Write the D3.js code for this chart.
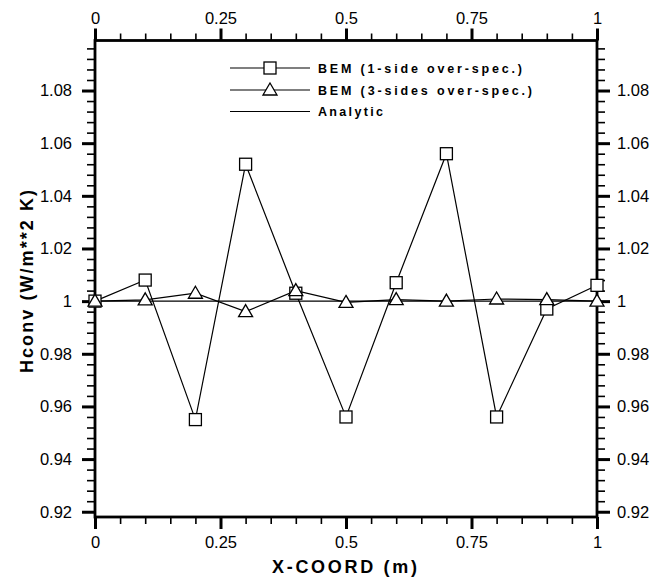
<!DOCTYPE html>
<html>
<head>
<meta charset="utf-8">
<script src="https://cdn.jsdelivr.net/npm/d3@7"></script>
<style>
  body { margin: 0; background: #fff; }
  svg { display: block; }
  text { font-family: "Liberation Sans", Arial, Helvetica, sans-serif; fill: #000; }
</style>
</head>
<body>
<svg id="chart" width="664" height="577"></svg>
<script>
// ---- data ----
const xCoord   = [0, 0.1, 0.2, 0.3, 0.4, 0.5, 0.6, 0.7, 0.8, 0.9, 1.0];
const bem1Side = [1.000, 1.008, 0.955, 1.052, 1.003, 0.956, 1.007, 1.056, 0.956, 0.997, 1.006];
const bem3Side = [1.000, 1.0005, 1.003, 0.996, 1.004, 0.9995, 1.0006, 1.000, 1.0008, 1.0006, 1.000];
const analytic = [1.000, 1.000, 1.000, 1.000, 1.000, 1.000, 1.000, 1.000, 1.000, 1.000, 1.000];
const xTicks = [0, 0.25, 0.5, 0.75, 1];
const xTickLabels = ["0", "0.25", "0.5", "0.75", "1"];
const yTicks = [0.92, 0.94, 0.96, 0.98, 1.00, 1.02, 1.04, 1.06, 1.08];
const yTickLabels = ["0.92", "0.94", "0.96", "0.98", "1", "1.02", "1.04", "1.06", "1.08"];
const legendLabels = ["BEM (1-side over-spec.)", "BEM (3-sides over-spec.)", "Analytic"];

// ---- layout ----
const L = 95, R = 597, T = 40.5, B = 517;
const svg = d3.select("#chart");
const x = d3.scaleLinear().domain([0, 1]).range([L, R]);
const y = d3.scaleLinear().domain([0.918, 1.099]).range([B, T]);

const xMinor = d3.range(0, 1.0001, 0.05).filter(v => !xTicks.some(t => Math.abs(t - v) < 1e-6));
const yMinor = d3.range(0.92, 1.0981, 0.004).filter(v => !yTicks.some(t => Math.abs(t - v) < 1e-6));

const fmtNone = () => "";
function minor(g) {
  g.select(".domain").remove();
  g.selectAll("line").attr("stroke", "#000").attr("stroke-width", 1.6);
}
svg.append("g").attr("transform", `translate(0,${B})`)
  .call(d3.axisBottom(x).tickValues(xMinor).tickSize(7).tickFormat(fmtNone)).call(minor);
svg.append("g").attr("transform", `translate(0,${T})`)
  .call(d3.axisTop(x).tickValues(xMinor).tickSize(7).tickFormat(fmtNone)).call(minor);
svg.append("g").attr("transform", `translate(${L},0)`)
  .call(d3.axisLeft(y).tickValues(yMinor).tickSize(8).tickFormat(fmtNone)).call(minor);
svg.append("g").attr("transform", `translate(${R},0)`)
  .call(d3.axisRight(y).tickValues(yMinor).tickSize(8).tickFormat(fmtNone)).call(minor);

// major ticks with labels
const xf = v => xTickLabels[xTicks.indexOf(v)];
const yf = v => yTickLabels[yTicks.indexOf(v)];
function major(g) {
  g.attr("font-size", 16.5).attr("font-family", '"Liberation Sans", Arial, Helvetica, sans-serif');
  g.select(".domain").remove();
  g.selectAll("line").attr("stroke", "#000").attr("stroke-width", 3);
  g.selectAll("text").attr("fill", "#000");
}
svg.append("g").attr("transform", `translate(0,${B})`)
  .call(d3.axisBottom(x).tickValues(xTicks).tickSize(12).tickPadding(7).tickFormat(xf))
  .call(major);
svg.append("g").attr("transform", `translate(0,${T})`)
  .call(d3.axisTop(x).tickValues(xTicks).tickSize(12).tickPadding(5).tickFormat(xf))
  .call(major);
svg.append("g").attr("transform", `translate(${L},0)`)
  .call(d3.axisLeft(y).tickValues(yTicks).tickSize(13).tickPadding(10).tickFormat(yf))
  .call(major);
svg.append("g").attr("transform", `translate(${R},0)`)
  .call(d3.axisRight(y).tickValues(yTicks).tickSize(13).tickPadding(7).tickFormat(yf))
  .call(major);

// frame
svg.append("rect").attr("x", L).attr("y", T).attr("width", R - L).attr("height", B - T)
  .attr("fill", "none").attr("stroke", "#000").attr("stroke-width", 2.8);

// lines
const line = d3.line().x(d => x(d[0])).y(d => y(d[1]));
const zip = vals => xCoord.map((v, i) => [v, vals[i]]);
svg.append("path").datum(zip(analytic)).attr("d", line)
  .attr("fill", "none").attr("stroke", "#000").attr("stroke-width", 1.2);
svg.append("path").datum(zip(bem3Side)).attr("d", line)
  .attr("fill", "none").attr("stroke", "#000").attr("stroke-width", 1.2);
svg.append("path").datum(zip(bem1Side)).attr("d", line)
  .attr("fill", "none").attr("stroke", "#000").attr("stroke-width", 1.2);

// markers
const SQ = 12;
function square(sel) {
  sel.append("rect").attr("x", -SQ / 2).attr("y", -SQ / 2).attr("width", SQ).attr("height", SQ)
    .attr("fill", "#fff").attr("stroke", "#000").attr("stroke-width", 1.3);
}
function triangle(sel) {
  sel.append("path").attr("d", "M0,-7 L7,5 L-7,5 Z")
    .attr("fill", "#fff").attr("stroke", "#000").attr("stroke-width", 1.3);
}
svg.append("g").selectAll("g").data(zip(bem1Side)).join("g")
  .attr("transform", d => `translate(${x(d[0])},${y(d[1])})`).call(square);
svg.append("g").selectAll("g").data(zip(bem3Side)).join("g")
  .attr("transform", d => `translate(${x(d[0])},${y(d[1])})`).call(triangle);

// legend
const legRows = [68, 90, 111.5];
const legWidths = [204, 214, 65];
legendLabels.forEach((lab, i) => {
  const g = svg.append("g").attr("transform", `translate(0,${legRows[i]})`);
  g.append("line").attr("x1", 230).attr("x2", 310).attr("y1", 0).attr("y2", 0)
    .attr("stroke", "#000").attr("stroke-width", 1.1);
  if (i === 0) g.append("g").attr("transform", "translate(270,0)").call(square);
  if (i === 1) g.append("g").attr("transform", "translate(270,0)").call(triangle);
  g.append("text").attr("x", 318).attr("y", 4.5).attr("font-size", 12.5).attr("font-weight", "bold")
    .attr("textLength", legWidths[i]).attr("lengthAdjust", "spacing").text(lab);
});

// axis titles
svg.append("text").attr("x", 272).attr("y", 573).attr("font-size", 18).attr("font-weight", "bold")
  .attr("textLength", 145).attr("lengthAdjust", "spacing").text("X-COORD (m)");
svg.append("text").attr("transform", "translate(33,373) rotate(-90)")
  .attr("font-size", 18).attr("font-weight", "bold")
  .attr("textLength", 183).attr("lengthAdjust", "spacing").text("Hconv (W/m**2 K)");
</script>
</body>
</html>
